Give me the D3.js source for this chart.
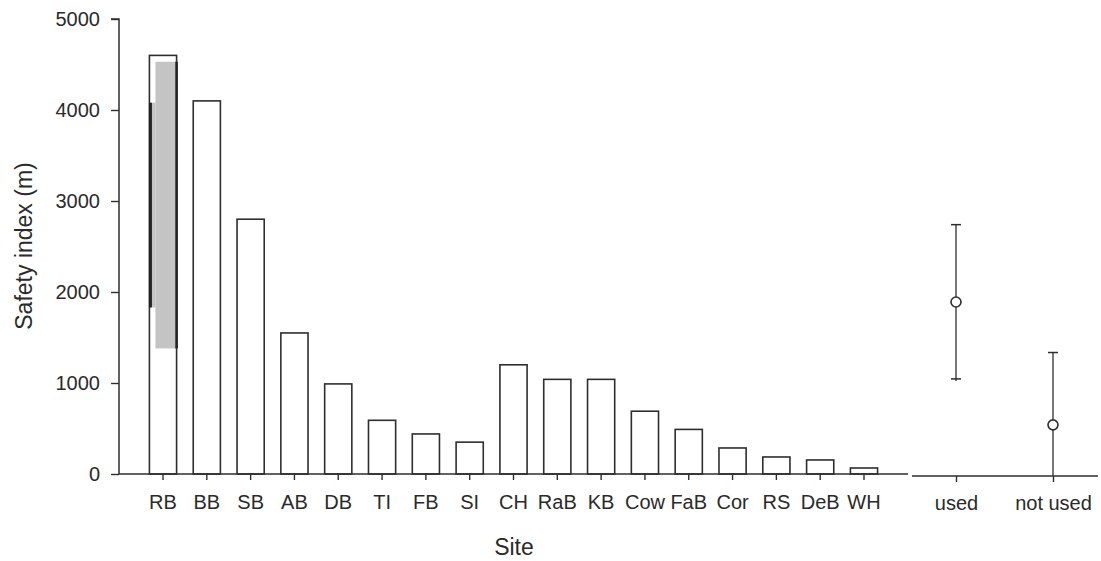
<!DOCTYPE html>
<html>
<head>
<meta charset="utf-8">
<script src="https://cdn.jsdelivr.net/npm/d3@7"></script>
<style>
  html, body { margin: 0; padding: 0; background: #fff; }
  svg { display: block; }
  text { font-family: "Liberation Sans", Arial, sans-serif; fill: #2a2a2a; }
</style>
</head>
<body>
<svg id="chart" width="1101" height="561"></svg>
<script>
// Safety index per site
const sites = ["RB","BB","SB","AB","DB","TI","FB","SI","CH","RaB","KB","Cow","FaB","Cor","RS","DeB","WH"];
const safety = [4600,4100,2800,1550,990,590,440,350,1200,1040,1040,690,490,286,187,154,66];

// Group summary: mean with upper / lower whisker
const groups = ["used","not used"];
const groupMean = [1890,540];
const groupUpper = [2740,1335];
const groupLower = [1045,0];

// Shaded band on the first bar
const shadeTop = 4530;
const shadeBottom = 1380;
const edgeTop = 4080;
const edgeBottom = 1830;

const yTicks = [0,1000,2000,3000,4000,5000];

const svg = d3.select("#chart");
const ink = "#2e2e2e";
const labelFont = "20px";
const titleFont = "23px";

const y = d3.scaleLinear().domain([0,5000]).range([474,19]);
const x = d3.scaleBand().domain(sites).range([141.1,885.9]).paddingInner(0.38).paddingOuter(0.19);
const xg = d3.scalePoint().domain(groups).range([956,1053]);

const axisLeftX = 119;

function styleTicks(g) {
  g.selectAll(".tick line").attr("stroke", ink).attr("stroke-width", 1.4);
  g.selectAll(".tick text")
    .style("font-size", labelFont)
    .style("font-family", "Liberation Sans, Arial, sans-serif")
    .attr("fill", "#2a2a2a");
}

// y axis
const yAxis = d3.axisLeft(y).tickValues(yTicks).tickSize(8).tickPadding(11).tickFormat(d3.format("d"));
const gy = svg.append("g").attr("transform", `translate(${axisLeftX},0)`).call(yAxis);
gy.select(".domain").attr("stroke", ink).attr("stroke-width", 1.5).attr("d", `M-8,${y(5000)}H0V${y(0)}`);
styleTicks(gy);

// bars
svg.append("g").selectAll("rect").data(sites).join("rect")
  .attr("x", d => x(d))
  .attr("y", (d,i) => y(safety[i]))
  .attr("width", x.bandwidth())
  .attr("height", (d,i) => y(0) - y(safety[i]))
  .attr("fill", "#fff")
  .attr("stroke", ink)
  .attr("stroke-width", 1.6);

// shaded band over the first bar
const x0 = x(sites[0]);
svg.append("rect")
  .attr("x", x0 + 6)
  .attr("y", y(shadeTop))
  .attr("width", x.bandwidth() - 6)
  .attr("height", y(shadeBottom) - y(shadeTop))
  .attr("fill", "#c4c4c4");
svg.append("rect")
  .attr("x", x0 + 1)
  .attr("y", y(edgeTop))
  .attr("width", 5)
  .attr("height", y(edgeBottom) - y(edgeTop))
  .attr("fill", "#c4c4c4");
svg.append("line")
  .attr("x1", x0 + 1).attr("x2", x0 + 1)
  .attr("y1", y(edgeTop)).attr("y2", y(edgeBottom))
  .attr("stroke", "#222").attr("stroke-width", 3);
svg.append("line")
  .attr("x1", x0 + x.bandwidth()).attr("x2", x0 + x.bandwidth())
  .attr("y1", y(shadeTop)).attr("y2", y(shadeBottom))
  .attr("stroke", "#222").attr("stroke-width", 2.6);

// x axis for sites
const xAxis = d3.axisBottom(x).tickSize(6).tickPadding(15);
const gx = svg.append("g").attr("transform", `translate(0,${y(0)})`).call(xAxis);
gx.select(".domain").attr("d", `M${axisLeftX},0H908`).attr("stroke", ink).attr("stroke-width", 1.6);
styleTicks(gx);

// x axis for groups
const gAxis = d3.axisBottom(xg).tickSize(6).tickPadding(14);
const gg = svg.append("g").attr("transform", `translate(0,${y(0) + 2})`).call(gAxis);
gg.select(".domain").attr("d", "M912,0H1098").attr("stroke", ink).attr("stroke-width", 1.6);
styleTicks(gg);

// whiskers
const capHalf = 5;
const eb = svg.append("g");
groups.forEach((g, i) => {
  const cx = xg(g);
  eb.append("line").attr("x1", cx).attr("x2", cx)
    .attr("y1", y(groupUpper[i])).attr("y2", y(groupLower[i]) + 2)
    .attr("stroke", ink).attr("stroke-width", 1.3);
  eb.append("line").attr("x1", cx - capHalf).attr("x2", cx + capHalf)
    .attr("y1", y(groupUpper[i])).attr("y2", y(groupUpper[i]))
    .attr("stroke", ink).attr("stroke-width", 1.5);
  if (groupLower[i] > 0) {
    eb.append("line").attr("x1", cx - capHalf).attr("x2", cx + capHalf)
      .attr("y1", y(groupLower[i])).attr("y2", y(groupLower[i]))
      .attr("stroke", ink).attr("stroke-width", 1.5);
  }
  eb.append("circle").attr("cx", cx).attr("cy", y(groupMean[i])).attr("r", 5)
    .attr("fill", "#fff").attr("stroke", ink).attr("stroke-width", 1.6);
});

// axis titles
svg.append("text")
  .attr("transform", `translate(32,246) rotate(-90)`)
  .attr("text-anchor", "middle")
  .style("font-size", titleFont)
  .text("Safety index (m)");
svg.append("text")
  .attr("x", 514).attr("y", 555)
  .attr("text-anchor", "middle")
  .style("font-size", titleFont)
  .text("Site");
</script>
</body>
</html>
